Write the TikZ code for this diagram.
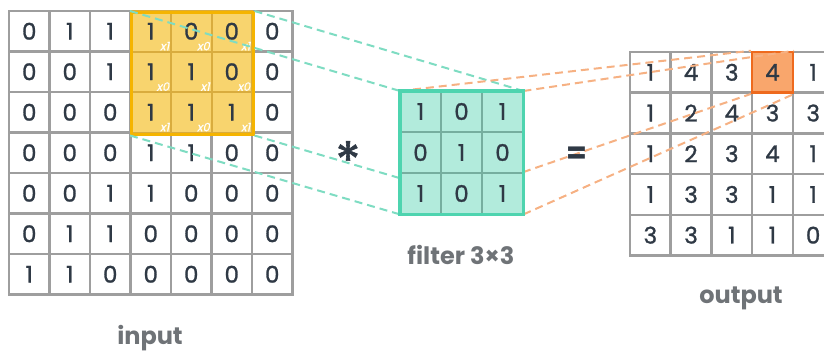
\documentclass[tikz,border=0pt]{standalone}
\usepackage{fontspec}
\setmainfont{Poppins}
\newfontfamily\subfont[FakeSlant=0.2,FakeBold=0.5]{Poppins}
\newfontfamily\digitfont[FakeBold=1.2]{Poppins}
\usetikzlibrary{calc}
\definecolor{gridc}{HTML}{9E9E9E}
\definecolor{digitc}{HTML}{2F3945}
\definecolor{yelfill}{HTML}{F8D46E}
\definecolor{yelline}{HTML}{D9AC3E}
\definecolor{yelborder}{HTML}{F5B400}
\definecolor{filfill}{HTML}{B2EBDC}
\definecolor{filline}{HTML}{76AE9F}
\definecolor{filborder}{HTML}{4ED4AF}
\definecolor{greendash}{HTML}{7EDCC2}
\definecolor{orangedash}{HTML}{F6B183}
\definecolor{hlfill}{HTML}{F9A66C}
\definecolor{hlborder}{HTML}{EE6A1E}
\definecolor{labelc}{HTML}{6F7377}
\tikzset{
  cellbox/.style={draw=gridc, line width=2.5pt, fill=white, inner sep=0pt,
    minimum width=#1, minimum height=#1, text=digitc,
    font=\digitfont\fontsize{23}{23}\selectfont},
  yelcell/.style={cellbox=40.5pt, fill=yelfill, draw=yelline, line width=2pt},
  filcell/.style={cellbox=41pt, fill=filfill, draw=filline, line width=2pt},
  subtext/.style={text=white, inner sep=0pt, font=\subfont\fontsize{11.5}{11.5}\selectfont},
  gdash/.style={draw=greendash, line width=2pt, dash pattern=on 8pt off 5pt},
  odash/.style={draw=orangedash, line width=2pt, dash pattern=on 8pt off 5pt},
  lbl/.style={text=labelc, font=\bfseries\fontsize{24}{24}\selectfont, inner sep=0pt},
}
\begin{document}
\begin{tikzpicture}[x=1pt,y=-1pt]
\useasboundingbox (0,0) rectangle (824,354);
\clip (0,0) rectangle (824,354);
% input grid
\foreach \row [count=\r from 0] in {{0,1,1,1,0,0,0},{0,0,1,1,1,0,0},{0,0,0,1,1,1,0},{0,0,0,1,1,0,0},{0,0,1,1,0,0,0},{0,1,1,0,0,0,0},{1,1,0,0,0,0,0}}{
  \foreach \v [count=\c from 0] in \row {
    \node[cellbox=40.5pt] (in-\r-\c) at ({9+40.5*\c+20.25},{11+40.5*\r+20.25}) {\v};
  }
}
% highlighted window
\foreach \row [count=\r from 0] in {{1,0,0},{1,1,0},{1,1,1}}{
  \foreach \v [count=\c from 3] in \row {
    \node[yelcell] (yw-\r-\c) at ({9+40.5*\c+20.25},{11+40.5*\r+20.25}) {\v};
  }
}
\foreach \row [count=\r from 0] in {{1,0,1},{0,1,0},{1,0,1}}{
  \foreach \v [count=\c from 3] in \row {
    \node[subtext, anchor=south east] (sub-\r-\c) at ($(yw-\r-\c.south east)+(-2.5,-2)$) {x\v};
  }
}
\node[draw=yelborder, line width=3pt, inner sep=0pt, minimum width=121.5pt, minimum height=121.5pt, anchor=north west] (win) at (130,11) {};
% output grid
\foreach \row [count=\r from 0] in {{1,4,3,4,1},{1,2,4,3,3},{1,2,3,4,1},{1,3,3,1,1},{3,3,1,1,0}}{
  \foreach \v [count=\c from 0] in \row {
    \node[cellbox=40.7pt] (out-\r-\c) at ({630+40.7*\c+20.35},{52+40.7*\r+20.35}) {\v};
  }
}
\node[cellbox=40.7pt, fill=hlfill, draw=hlborder] (hl) at (out-0-3) {4};
% filter outline (corners for connectors)
\node[inner sep=0pt, minimum width=123pt, minimum height=123pt, anchor=north west] (filt) at (400,91) {};
% dashed connectors
\draw[gdash] (win.north west) -- (filt.north west);
\draw[gdash] (win.north east) -- (filt.north east);
\draw[gdash] (win.south west) -- (filt.south west);
\draw[gdash] (win.south east) -- (filt.south east);
\draw[odash] (filt.north west) -- (hl.north west);
\draw[odash] (filt.north east) -- (hl.north east);
\draw[odash] (filt.south west) -- (hl.south west);
\draw[odash] (filt.south east) -- (hl.south east);
% filter
\foreach \row [count=\r from 0] in {{1,0,1},{0,1,0},{1,0,1}}{
  \foreach \v [count=\c from 0] in \row {
    \node[filcell] (f-\r-\c) at ({400+41*\c+20.5},{91+41*\r+20.5}) {\v};
  }
}
\draw[draw=filborder, line width=3.5pt] (filt.north west) rectangle (filt.south east);
% operators
\node[text=digitc, font=\digitfont\fontsize{52}{52}\selectfont, inner sep=0pt, anchor=north] (star) at (348,141) {*};
\node[text=digitc, font=\bfseries\fontsize{30}{30}\selectfont, inner sep=0pt] (eq) at (577,155) {=};
% labels
\node[lbl] (lin) at (150,338) {input};
\node[lbl] (lfil) at (461,255) {filter 3×3};
\node[lbl] (lout) at (741,298) {output};
\end{tikzpicture}
\end{document}
